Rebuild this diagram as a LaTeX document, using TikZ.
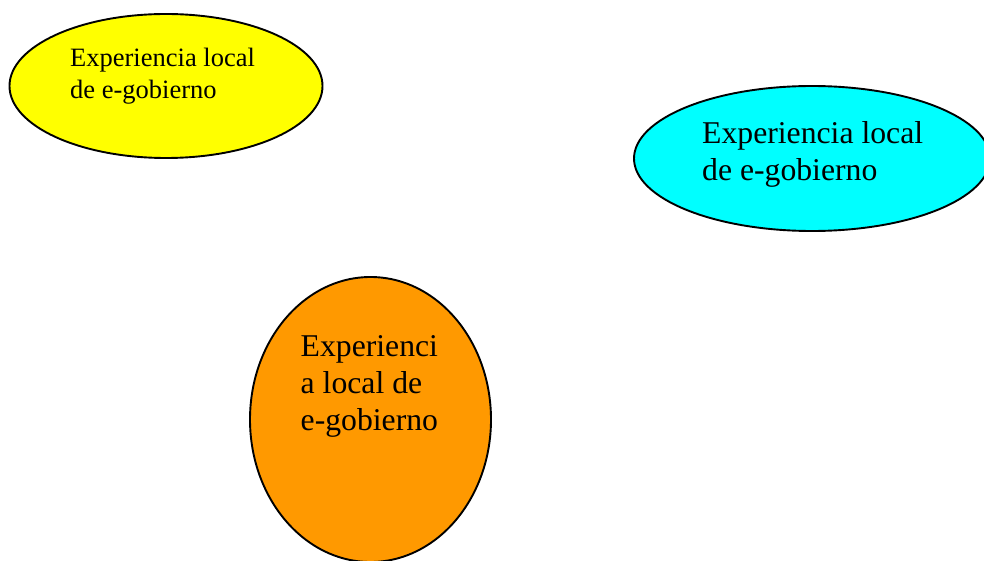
\documentclass[tikz,border=0pt]{standalone}
\usepackage{fontspec}
\setmainfont{Liberation Serif}
\usetikzlibrary{shapes.geometric}
\definecolor{cyanfill}{HTML}{00FFFF}
\definecolor{yellowfill}{HTML}{FFFF00}
\definecolor{orangefill}{HTML}{FF9900}
\tikzset{
  ell/.style={ellipse, draw=black, line width=1.9pt, inner sep=0pt},
  lbl/.style={anchor=base west, inner sep=0pt, text=black},
}
\newcommand{\lines}[3]{\fontsize{#1}{#2}\selectfont\begin{tabular}[t]{@{}l@{}}#3\end{tabular}}
\begin{document}
\begin{tikzpicture}[x=1pt,y=-1pt]
\useasboundingbox (0,0) rectangle (984,561);
\clip (0,0) rectangle (984,561);
\fill[white] (0,0) rectangle (984,561);
\node[ell, fill=yellowfill, minimum width=313, minimum height=144] (yel) at (166,86) {};
\node[ell, fill=cyanfill, minimum width=356, minimum height=145] (cya) at (812,158.5) {};
\node[ell, fill=orangefill, minimum width=241, minimum height=285] (ora) at (370.5,419.5) {};
\node[lbl] (yeltext) at (70,67) {\lines{26.5}{32}{Experiencia local\\de e-gobierno}};
\node[lbl] (cyatext) at (702,144) {\lines{31.7}{36.7}{Experiencia local\\de e-gobierno}};
\node[lbl] (oratext) at (300.5,356.7) {\lines{31.7}{36.7}{Experienci\\a local de\\e-gobierno}};
\end{tikzpicture}
\end{document}
